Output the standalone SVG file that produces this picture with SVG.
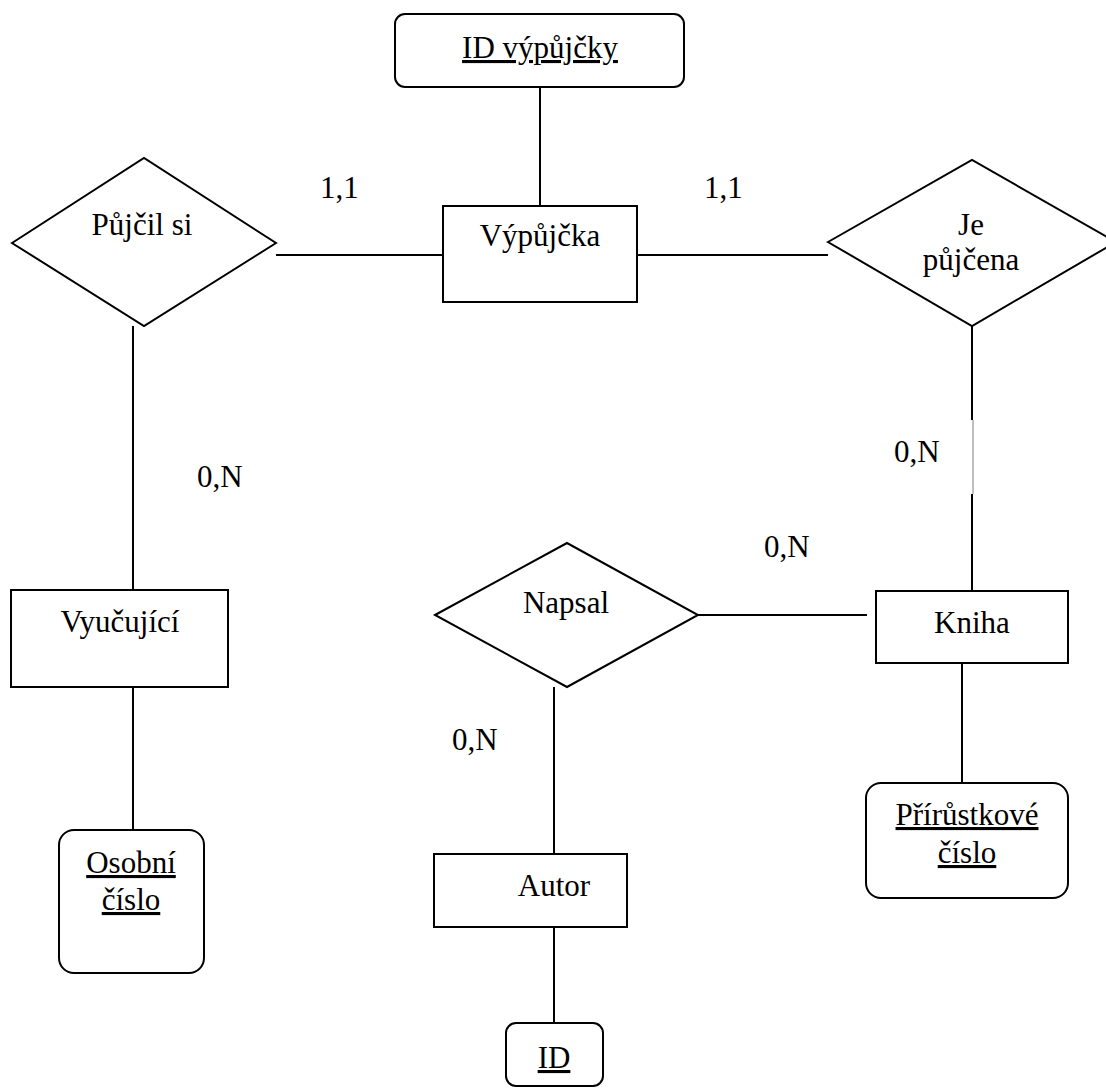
<svg xmlns="http://www.w3.org/2000/svg" width="1106" height="1090" viewBox="0 0 1106 1090">
<style>
.s{fill:#fff;stroke:#000;stroke-width:2}
.c{stroke:#000;stroke-width:2;fill:none}
text{font-size:31px;fill:#000}
.m{text-anchor:middle}
.u{text-decoration:underline}
</style>
<rect width="1106" height="1090" fill="#fff"/>
<g font-family="Liberation Serif, Times New Roman, DejaVu Serif, serif">
<g id="connectors">
<line class="c" x1="540" y1="87" x2="540" y2="206"/>
<line class="c" x1="276" y1="255" x2="443" y2="255"/>
<line class="c" x1="637" y1="255" x2="828" y2="255"/>
<line class="c" x1="133" y1="326" x2="133" y2="590"/>
<line class="c" x1="133" y1="687" x2="133" y2="830"/>
<line class="c" x1="972" y1="326" x2="972" y2="420"/>
<line x1="973" y1="420" x2="973" y2="494" stroke="#000" stroke-width="1" opacity="0.5"/>
<line class="c" x1="972" y1="494" x2="972" y2="591"/>
<line class="c" x1="698" y1="615" x2="867" y2="615"/>
<line class="c" x1="554" y1="687" x2="554" y2="854"/>
<line class="c" x1="554" y1="927" x2="554" y2="1023"/>
<line class="c" x1="962" y1="663" x2="962" y2="783"/>
</g>
<g id="labels">
<text x="320" y="198">1,1</text>
<text x="704" y="198">1,1</text>
<text x="197" y="487">0,N</text>
<text x="894" y="462">0,N</text>
<text x="764" y="557">0,N</text>
<text x="452" y="750">0,N</text>
</g>
<g id="id-vypujcky">
<rect class="s" x="395" y="14" width="289" height="73" rx="10"/>
<text class="m u" x="540" y="58">ID výpůjčky</text>
</g>
<g id="vypujcka">
<rect class="s" x="443" y="206" width="194" height="96"/>
<text class="m" x="540" y="246">Výpůjčka</text>
</g>
<g id="pujcil-si">
<polygon class="s" points="12,243 144,158 276,243 144,326"/>
<text class="m" x="142" y="235">Půjčil si</text>
</g>
<g id="je-pujcena">
<polygon class="s" points="828,242 972,160 1116,242 972,326"/>
<text class="m" x="971" y="235">Je</text>
<text class="m" x="971" y="270">půjčena</text>
</g>
<g id="vyucujici">
<rect class="s" x="11" y="590" width="217" height="97"/>
<text class="m" x="120" y="632">Vyučující</text>
</g>
<g id="osobni-cislo">
<rect class="s" x="59" y="830" width="145" height="143" rx="15"/>
<text class="m u" x="131" y="873">Osobní</text>
<text class="m u" x="131" y="910">číslo</text>
</g>
<g id="napsal">
<polygon class="s" points="435,615 567,543 698,615 567,687"/>
<text class="m" x="566" y="613">Napsal</text>
</g>
<g id="kniha">
<rect class="s" x="876" y="591" width="192" height="72"/>
<text class="m" x="972" y="633">Kniha</text>
</g>
<g id="prirustkove-cislo">
<rect class="s" x="866" y="783" width="202" height="115" rx="15"/>
<text class="m u" x="967" y="825">Přírůstkové</text>
<text class="m u" x="967" y="863">číslo</text>
</g>
<g id="autor">
<rect class="s" x="434" y="854" width="193" height="73"/>
<text class="m" x="554" y="896">Autor</text>
</g>
<g id="id">
<rect class="s" x="506" y="1023" width="97" height="63" rx="10"/>
<text class="m u" x="554" y="1068">ID</text>
</g>
</g>
</svg>
